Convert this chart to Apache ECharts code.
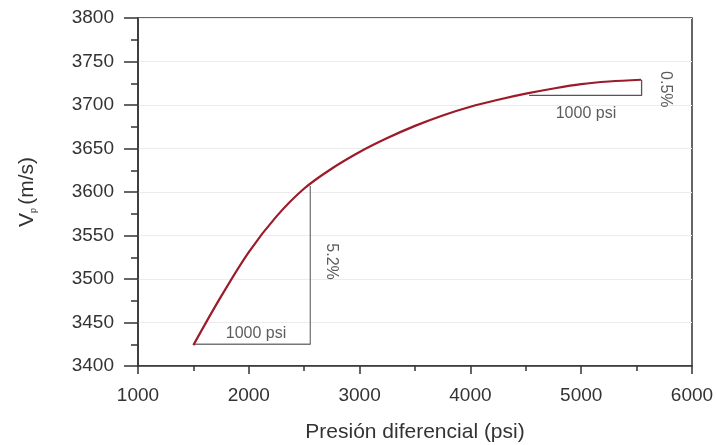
<!DOCTYPE html>
<html>
<head>
<meta charset="utf-8">
<script src="https://cdn.jsdelivr.net/npm/echarts@6/dist/echarts.min.js"></script>
<style>
  html, body { margin: 0; padding: 0; background: #fff; }
  #chart { width: 717px; height: 445px; }
</style>
</head>
<body>
<div id="chart"></div>
<script>
// curve: pressure (psi) and Vp (m/s)
const pressure = [1500, 1750, 2000, 2250, 2500, 2750, 3000, 3250, 3500, 3750, 4000, 4250, 4500, 4750, 5000, 5250, 5540]
const velocity = [3424, 3480, 3531, 3572, 3604, 3627, 3646, 3662, 3676, 3688, 3698, 3706, 3713, 3719, 3724, 3727, 3729]

// slope triangles
const triLow = [[1500, 3425], [2555, 3425], [2555, 3607]]
const triHigh = [[4530, 3711], [5545, 3711], [5545, 3729]]

// annotation texts [x, y, text, rotate]
const notes = [
  [2065, 3437, '1000 psi', 0],
  [2742, 3520, '5.2%', -90],
  [5043, 3690, '1000 psi', 0],
  [5756, 3718, '0.5%', -90]
]

const chart = echarts.init(document.getElementById('chart'))
const textColor = '#333'
const axisColor = '#333'

chart.setOption({
  animation: false,
  grid: {
    left: 138,
    top: 18,
    right: 25,
    bottom: 79,
    outerBoundsMode: 'none',
    show: true,
    borderColor: axisColor,
    borderWidth: 1.5,
    backgroundColor: 'transparent'
  },
  xAxis: {
    type: 'value',
    min: 1000,
    max: 6000,
    interval: 1000,
    name: 'Presión diferencial (psi)',
    nameLocation: 'middle',
    nameGap: 56,
    nameTextStyle: { fontFamily: 'Liberation Sans', fontSize: 21, color: textColor },
    axisLine: { show: true, lineStyle: { color: axisColor, width: 1.5 } },
    axisTick: { show: true, inside: false, length: 8, lineStyle: { color: axisColor, width: 1.5 } },
    minorTick: { show: true, splitNumber: 2, length: 5, lineStyle: { color: axisColor, width: 1.5 } },
    splitLine: { show: false },
    axisLabel: { fontFamily: 'Liberation Sans', fontSize: 19, color: textColor, margin: 20, formatter: v => String(v) }
  },
  yAxis: {
    type: 'value',
    min: 3400,
    max: 3800,
    interval: 50,
    name: '{v|V}{s|p} {v|(m/s)}',
    nameLocation: 'middle',
    nameGap: 100,
    nameRotate: 90,
    nameTextStyle: {
      rich: {
        v: { fontFamily: 'Liberation Sans', fontSize: 21, color: textColor },
        s: { fontFamily: 'Liberation Sans', fontSize: 9, color: textColor, verticalAlign: 'bottom', padding: [10, 0, 0, 0] }
      }
    },
    axisLine: { show: true, lineStyle: { color: axisColor, width: 1.5 } },
    axisTick: { show: true, inside: false, length: 14, lineStyle: { color: axisColor, width: 1.5 } },
    minorTick: { show: true, splitNumber: 2, length: 7, lineStyle: { color: axisColor, width: 1.5 } },
    splitLine: { show: true, lineStyle: { color: '#ececec', width: 1 } },
    axisLabel: { fontFamily: 'Liberation Sans', fontSize: 19, color: textColor, margin: 24, formatter: v => String(v) }
  },
  series: [
    {
      type: 'line',
      data: triLow,
      symbol: 'none',
      lineStyle: { color: '#777', width: 1.3 },
      z: 2
    },
    {
      type: 'line',
      data: triHigh,
      symbol: 'none',
      lineStyle: { color: '#555', width: 1.3 },
      z: 2
    },
    {
      type: 'line',
      data: pressure.map((p, i) => [p, velocity[i]]),
      smooth: 0.35,
      symbol: 'none',
      lineStyle: { color: '#9b1b2a', width: 2.2 },
      z: 3
    },
    {
      type: 'scatter',
      symbolSize: 0,
      silent: true,
      data: notes.map(n => ({
        value: [n[0], n[1]],
        label: {
          show: true,
          position: 'inside',
          formatter: n[2],
          rotate: n[3],
          fontFamily: 'Liberation Sans',
          fontSize: 16,
          color: textColor
        }
      }))
    }
  ]
})
</script>
</body>
</html>
